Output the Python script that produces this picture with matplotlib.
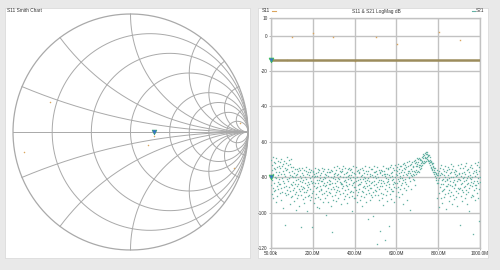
import matplotlib
matplotlib.use("Agg")
import matplotlib.pyplot as plt
import numpy as np
from matplotlib.patches import Rectangle
from matplotlib.lines import Line2D

plt.rcParams['font.family'] = ['Liberation Sans', 'DejaVu Sans']

# ---- data ----
freq_start_mhz = 0.05
freq_stop_mhz = 1000.0

x_ticks = [0.05, 200, 400, 600, 800, 1000]
x_labels = ['50.00k', '200.0M', '400.0M', '600.0M', '800.0M', '1000.0M']
y_ticks = [10, 0, -20, -40, -60, -80, -100, -120]

# S11 trace (flat around -13.5 dB) and a few stray S11 points
s11_freq = [0.05, 1000]
s11_db = [-13.5, -13.5]
s11_odd_freq = [99, 200, 298, 502, 601, 804, 904, 75, 134, 402]
s11_odd_db = [-0.5, 1.7, -0.5, -0.5, -4.5, 2.0, -2.3, -14.0, -14.0, -14.5]

# S21 sweep, 800 points (dB)
s21_db = [
    -70.3, -84.6, -76.1, -89.7, -73.2, -81.8, -68.7, -86.3, -78.4, -91.9, -74.8, -83.1, -71.5, -88.0, -79.9, -75.6,
    -87.4, -72.0, -80.5, -93.8, -69.4, -77.3, -85.1, -74.2, -90.6, -82.7, -70.9, -79.0, -86.9, -73.7, -83.9, -76.8,
    -81.2, -89.1, -75.0, -71.3, -84.0, -78.0, -92.7, -69.9, -86.1, -73.9, -80.2, -88.4, -76.5, -82.3, -97.5, -72.6,
    -77.9, -85.7, -70.6, -83.3, -106.8, -74.5, -88.9, -79.4, -71.9, -90.3, -76.0, -84.8, -68.4, -81.0, -87.2, -75.3,
    -73.0, -82.0, -89.5, -76.9, -70.0, -85.4, -80.7, -95.0, -72.3, -78.7, -87.8, -74.0, -83.6, -91.0, -69.6, -79.2,
    -84.3, -76.2, -90.8, -79.6, -87.0, -74.4, -82.5, -93.6, -77.8, -85.9, -80.1, -89.2, -75.5, -83.7, -98.4, -78.9,
    -81.4, -88.6, -75.1, -85.0, -91.7, -78.1, -83.9, -76.7, -90.0, -80.8, -86.8, -74.6, -96.2, -82.2, -79.3, -87.7,
    -76.0, -84.7, -108.0, -80.3, -89.8, -77.4, -86.4, -82.8, -74.9, -92.5, -79.0, -85.3, -81.6, -88.1, -75.8, -94.7,
    -86.0, -79.8, -83.2, -91.2, -76.6, -88.3, -81.1, -74.2, -87.1, -99.3, -78.4, -84.5, -90.5, -77.1, -82.9, -85.6,
    -78.6, -89.9, -75.3, -84.0, -80.6, -93.1, -77.0, -86.7, -82.0, -75.9, -91.4, -79.5, -108.2, -83.5, -88.8, -76.3,
    -82.7, -76.8, -87.5, -80.0, -94.3, -78.2, -85.2, -91.8, -74.7, -83.0, -79.1, -89.4, -77.6, -86.2, -81.3, -96.9,
    -85.8, -79.2, -75.4, -90.9, -83.4, -77.3, -88.0, -81.7, -97.6, -76.1, -84.9, -80.4, -92.1, -78.8, -87.3, -82.4,
    -77.7, -86.5, -82.1, -74.8, -89.6, -80.9, -93.9, -76.4, -84.2, -79.7, -88.7, -75.2, -83.1, -91.5, -78.0, -85.1,
    -80.2, -101.6, -87.9, -78.5, -84.6, -76.9, -90.2, -82.6, -75.6, -86.0, -79.4, -94.0, -81.5, -77.2, -88.4, -83.8,
    -84.1, -77.1, -89.0, -81.9, -96.5, -75.7, -86.9, -79.8, -111.0, -83.3, -90.7, -76.5, -85.4, -80.7, -92.8, -78.3,
    -79.1, -86.8, -74.3, -83.5, -90.1, -77.5, -81.2, -88.5, -75.9, -84.7, -93.3, -78.6, -82.4, -73.6, -87.2, -80.3,
    -85.5, -78.0, -91.6, -80.9, -74.9, -87.8, -82.8, -76.7, -89.3, -79.4, -84.0, -95.4, -77.2, -83.1, -75.4, -86.2,
    -76.3, -83.9, -80.0, -88.9, -73.9, -85.1, -92.3, -78.3, -82.0, -87.0, -75.0, -81.4, -90.4, -77.8, -84.4, -79.7,
    -82.9, -89.7, -77.0, -84.8, -94.6, -79.2, -75.6, -86.4, -81.0, -91.1, -74.5, -83.6, -78.7, -88.1, -80.6, -76.0,
    -87.6, -75.2, -81.8, -79.0, -90.6, -84.2, -98.9, -76.9, -83.0, -88.6, -73.4, -80.1, -85.8, -77.4, -92.0, -82.5,
    -78.1, -85.3, -91.9, -80.5, -74.1, -87.4, -82.2, -76.4, -89.9, -93.8, -79.6, -84.6, -75.8, -81.7, -88.3, -77.6,
    -83.8, -77.3, -86.6, -80.8, -92.6, -75.3, -84.1, -79.3, -90.8, -82.7, -96.1, -74.7, -87.9, -78.5, -85.6, -81.1,
    -75.7, -88.2, -79.9, -84.9, -77.7, -91.3, -73.8, -82.3, -86.3, -80.2, -89.5, -76.6, -83.4, -94.2, -78.2, -85.0,
    -81.6, -103.5, -76.2, -87.1, -80.4, -84.3, -74.2, -89.0, -82.1, -93.0, -77.9, -85.9, -79.1, -90.2, -75.5, -83.2,
    -86.1, -78.9, -82.6, -75.1, -91.4, -80.0, -88.4, -101.9, -77.0, -84.5, -73.5, -81.9, -89.8, -76.8, -87.3, -79.5,
    -80.7, -87.6, -76.5, -83.7, -78.1, -118.0, -85.7, -74.4, -82.8, -90.3, -79.8, -75.9, -86.5, -92.9, -81.3, -77.1,
    -84.8, -77.6, -110.2, -81.5, -88.8, -75.8, -83.3, -79.0, -91.8, -76.3, -85.2, -89.6, -73.7, -82.0, -95.9, -78.4,
    -76.4, -83.0, -79.4, -86.9, -115.3, -77.9, -84.2, -80.3, -90.0, -74.6, -82.5, -93.5, -78.0, -87.5, -81.2, -75.3,
    -82.2, -75.0, -85.8, -78.6, -107.4, -83.9, -74.0, -89.2, -80.1, -86.6, -77.5, -92.1, -73.2, -81.8, -88.0, -79.2,
    -77.3, -84.0, -80.9, -74.8, -87.7, -82.9, -94.1, -76.1, -85.4, -79.6, -73.1, -83.5, -90.5, -78.3, -75.7, -86.3,
    -78.9, -74.1, -83.2, -76.6, -88.6, -81.0, -72.8, -85.6, -77.7, -91.4, -75.3, -82.3, -79.4, -86.9, -73.6, -80.4,
    -76.9, -84.4, -73.9, -80.6, -89.4, -75.8, -83.0, -72.5, -78.8, -95.1, -81.7, -74.8, -86.1, -77.2, -71.9, -82.6,
    -75.4, -81.1, -72.9, -78.2, -87.3, -74.3, -84.0, -71.6, -79.0, -92.6, -76.3, -73.4, -85.1, -77.8, -70.9, -80.0,
    -76.2, -80.4, -73.0, -98.6, -77.8, -82.1, -72.4, -78.9, -75.1, -86.9, -79.3, -71.6, -76.7, -81.0, -73.5, -77.9,
    -74.3, -78.6, -71.0, -76.5, -81.8, -72.2, -77.1, -70.4, -84.5, -75.7, -71.5, -78.0, -73.6, -69.0, -76.8, -72.4,
    -73.5, -69.8, -76.2, -71.6, -74.0, -68.9, -73.1, -76.9, -70.4, -72.9, -75.6, -69.5, -72.2, -74.8, -70.0, -73.4,
    -70.6, -73.3, -68.4, -71.5, -67.9, -72.1, -69.0, -66.8, -70.7, -72.2, -67.3, -69.0, -71.4, -66.4, -68.6, -70.9,
    -67.1, -65.5, -69.2, -66.9, -68.7, -65.9, -69.8, -67.4, -70.3, -68.0, -71.1, -67.5, -70.6, -72.0, -68.8, -71.5,
    -70.2, -73.1, -71.4, -74.0, -70.9, -74.7, -72.6, -75.3, -71.8, -76.1, -73.6, -72.0, -76.8, -74.1, -77.3, -75.0,
    -76.0, -78.2, -74.6, -79.4, -76.9, -80.5, -77.6, -81.3, -78.1, -91.5, -79.0, -75.9, -83.0, -78.7, -81.6, -77.8,
    -83.4, -76.7, -89.1, -80.2, -97.0, -74.9, -85.5, -79.0, -91.6, -77.6, -84.1, -73.3, -87.9, -81.4, -94.4, -78.3,
    -80.9, -87.3, -75.6, -83.8, -78.5, -91.0, -76.2, -86.4, -82.1, -73.9, -89.7, -79.7, -98.0, -77.0, -84.9, -81.6,
    -76.1, -85.0, -81.0, -89.0, -74.0, -83.6, -78.9, -93.2, -80.5, -75.4, -87.1, -82.4, -90.4, -77.4, -84.3, -72.8,
    -79.8, -88.2, -77.2, -84.7, -95.3, -75.2, -82.8, -80.0, -90.1, -73.5, -86.3, -81.8, -76.8, -92.2, -83.9, -78.1,
    -84.6, -75.8, -87.6, -79.3, -90.9, -76.4, -82.0, -96.4, -78.6, -85.9, -73.0, -81.2, -88.7, -80.8, -77.5, -86.8,
    -78.2, -86.0, -81.7, -107.2, -75.0, -84.0, -79.5, -90.7, -72.6, -83.1, -93.6, -77.7, -87.4, -80.3, -74.5, -88.4,
    -82.3, -76.9, -85.3, -79.9, -92.0, -73.8, -84.8, -78.0, -89.5, -81.5, -72.2, -87.0, -80.6, -94.9, -76.0, -83.7,
    -75.1, -83.3, -79.2, -88.1, -77.1, -86.1, -99.1, -80.7, -74.2, -84.4, -78.7, -91.3, -72.9, -82.5, -81.0, -89.8,
    -80.1, -74.7, -85.2, -112.1, -77.8, -83.0, -90.6, -76.5, -87.2, -81.9, -71.7, -84.5, -93.0, -79.1, -75.9, -86.2,
    -77.0, -84.2, -73.1, -82.0, -88.9, -78.4, -71.5, -83.4, -91.9, -80.4, -74.3, -104.5, -86.7, -76.7, -82.7, -79.6,
]

# marker readings
s11_marker = (0.05, -13.5)
s21_marker = (0.05, -80.0)

# Smith chart: grid values and S11 points (reflection coefficient)
smith_r = [0.2, 0.5, 1, 2, 3, 5, 10]
smith_x = [0.2, 0.5, 1, 2, 3, 5, 10]
gamma_re = [-0.685, 0.932, -0.906, 0.149, 0.881, 0.20]
gamma_im = [0.255, 0.077, -0.168, -0.111, -0.306, -0.03]
smith_marker = (0.20, 0.0)

teal = '#66b2a4'
olive = '#9c8c5c'
orange = '#dba55e'
gridc = '#c2c2c2'
smithc = '#a9a9a9'
txt = '#333333'

W, H = 500, 270
def fx(px):
    return px / W
def fy(py):
    return 1 - py / H

fig = plt.figure(figsize=(5, 2.7), dpi=100, facecolor='#e9e9e9')

# white panels
fig.add_artist(Rectangle((fx(5), fy(258)), 245 / W, 250 / H, transform=fig.transFigure,
                         facecolor='white', edgecolor='#d6d6d6', lw=0.5, zorder=-1))
fig.add_artist(Rectangle((fx(258), fy(258)), 230 / W, 250 / H, transform=fig.transFigure,
                         facecolor='white', edgecolor='#d6d6d6', lw=0.5, zorder=-1))

# ---- Smith chart ----
ax1 = fig.add_axes([fx(13), fy(250), 235 / W, 236 / H])
ax1.set_facecolor('none')
ax1.set_xlim(-1, 1)
ax1.set_ylim(-1, 1)
ax1.axis('off')

t = np.linspace(0, 2 * np.pi, 400)
ax1.plot(np.cos(t), np.sin(t), color=smithc, lw=0.9, clip_on=False)
for r in smith_r:
    c, rad = r / (1 + r), 1 / (1 + r)
    ax1.plot(c + rad * np.cos(t), rad * np.sin(t), color=smithc, lw=0.7, clip_on=False)
rr = np.concatenate([[0], np.logspace(-3, 4, 500)])
for xv in smith_x:
    for s in (1, -1):
        z = rr + 1j * s * xv
        g = (z - 1) / (z + 1)
        ax1.plot(g.real, g.imag, color=smithc, lw=0.7, clip_on=False)
ax1.plot([-1, 1], [0, 0], color=smithc, lw=0.7)
ax1.scatter(gamma_re, gamma_im, s=1.2, color=orange, lw=0, zorder=3)
ax1.plot(*smith_marker, marker='v', ms=3.5, mfc='#3b6fd0', mec='#2a9a6a', mew=0.4, zorder=4)
fig.text(fx(7), fy(11), 'S11 Smith Chart', fontsize=3.4, color=txt, va='center', ha='left')

# ---- LogMag chart ----
ax2 = fig.add_axes([fx(271), fy(248), 209 / W, 230 / H])
freq = np.linspace(freq_start_mhz, freq_stop_mhz, len(s21_db))
ax2.plot(freq, s21_db, ls='none', marker='s', ms=0.95, mfc=teal, mec='none', zorder=3)
ax2.plot(s11_freq, s11_db, color=olive, lw=1.8, zorder=4, solid_capstyle='butt')
ax2.plot(s11_odd_freq, s11_odd_db, ls='none', marker='s', ms=1.0, mfc=orange, mec='none', zorder=3)
for m in (s11_marker, s21_marker):
    ax2.plot(*m, marker='v', ms=3.5, mfc='#3b6fd0', mec='#35c050', mew=0.5, zorder=5, clip_on=False)

ax2.set_xlim(freq_start_mhz, freq_stop_mhz)
ax2.set_ylim(-120, 10)
ax2.set_xticks(x_ticks)
ax2.set_xticklabels(x_labels)
ax2.set_yticks(y_ticks)
ax2.set_yticklabels([str(v) for v in y_ticks])
ax2.grid(True, color=gridc, lw=1.0, zorder=0)
ax2.set_axisbelow(True)
for sp in ax2.spines.values():
    sp.set_color(gridc)
    sp.set_linewidth(1.0)
ax2.tick_params(labelsize=3.4, labelcolor=txt, length=1.5, width=0.5, color='#999999', pad=1)

fig.text(fx(376), fy(11), 'S11 & S21 LogMag dB', fontsize=3.4, color=txt, ha='center', va='center')
fig.text(fx(262), fy(11), 'S11', fontsize=3.4, color=txt, ha='left', va='center')
fig.add_artist(Line2D([fx(272), fx(276)], [fy(11), fy(11)], transform=fig.transFigure, color=orange, lw=0.8))
fig.text(fx(484), fy(11), 'S21', fontsize=3.4, color=txt, ha='right', va='center')
fig.add_artist(Line2D([fx(472), fx(475)], [fy(11), fy(11)], transform=fig.transFigure, color=teal, lw=0.8))

fig.savefig('out.png', dpi=100, facecolor=fig.get_facecolor())
